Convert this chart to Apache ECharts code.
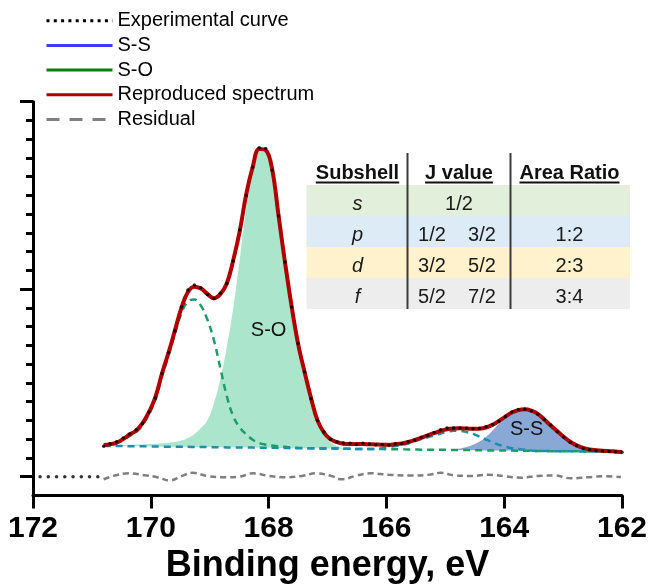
<!DOCTYPE html>
<html><head><meta charset="utf-8">
<script src="https://cdn.jsdelivr.net/npm/echarts@6/dist/echarts.min.js"></script>
<style>html,body{margin:0;padding:0;background:#fff}#chart{width:649px;height:584px}</style>
</head><body><div id="chart"></div>
<script>
// ---------- data ----------
const energy = [
170.80,170.69,170.58,170.47,170.36,170.25,170.14,170.03,169.92,169.81,
169.70,169.59,169.48,169.37,169.26,169.15,169.04,168.93,168.82,168.71,
168.60,168.49,168.38,168.27,168.16,168.05,167.94,167.83,167.72,167.61,
167.50,167.39,167.28,167.17,167.06,166.95,166.84,166.73,166.62,166.51,
166.40,166.29,166.18,166.07,165.96,165.85,165.74,165.63,165.52,165.41,
165.30,165.19,165.08,164.97,164.86,164.75,164.64,164.53,164.42,164.31,
164.20,164.09,163.98,163.87,163.76,163.65,163.54,163.43,163.32,163.21,
163.10,162.99,162.88,162.77,162.66,162.55,162.44,162.33,162.22,162.11,
162.00];
const background = [
1.64,1.64,1.63,1.63,1.62,1.62,1.62,1.61,1.61,1.60,
1.60,1.60,1.59,1.59,1.58,1.58,1.58,1.57,1.57,1.56,
1.56,1.56,1.55,1.55,1.54,1.54,1.54,1.53,1.53,1.52,
1.52,1.52,1.51,1.51,1.50,1.50,1.50,1.49,1.49,1.48,
1.48,1.48,1.47,1.47,1.46,1.46,1.46,1.45,1.45,1.44,
1.44,1.44,1.43,1.43,1.42,1.42,1.42,1.41,1.41,1.40,
1.40,1.40,1.39,1.39,1.38,1.38,1.38,1.37,1.37,1.36,
1.36,1.36,1.35,1.35,1.34,1.34,1.34,1.33,1.33,1.32,
1.32];
const reproduced = [
1.69,1.73,1.82,2.00,2.25,2.45,2.85,3.45,4.25,5.5,
6.6,7.8,9.0,9.85,10.13,10.03,9.75,9.52,9.74,10.3,
11.55,13.1,15.05,16.52,17.48,17.42,16.4,13.9,11.4,9.1,
7.1,5.6,4.2,3.0,2.35,2.0,1.84,1.76,1.74,1.74,
1.74,1.73,1.72,1.70,1.70,1.73,1.77,1.85,1.95,2.07,
2.2,2.32,2.44,2.53,2.57,2.58,2.57,2.55,2.56,2.62,
2.76,2.97,3.2,3.42,3.55,3.59,3.52,3.35,3.05,2.73,
2.43,2.13,1.86,1.67,1.53,1.45,1.41,1.38,1.36,1.34,
1.32];
const experimental = [
1.62,1.75,1.86,2.06,2.28,2.5,2.83,3.45,4.2,5.5,
6.62,7.78,9.05,9.95,10.22,10.08,9.72,9.5,9.78,10.3,
11.5,13.15,15.0,16.5,17.55,17.5,16.35,13.9,11.45,9.05,
7.1,5.6,4.15,3.0,2.4,2.0,1.86,1.8,1.78,1.72,
1.78,1.74,1.7,1.72,1.68,1.75,1.76,1.86,1.96,2.1,
2.2,2.35,2.5,2.6,2.6,2.6,2.58,2.56,2.58,2.66,
2.78,2.95,3.2,3.45,3.58,3.6,3.5,3.33,3.05,2.75,
2.4,2.1,1.84,1.65,1.5,1.44,1.4,1.37,1.35,1.33,
1.3];
const experimentalZeroX = [171.88,171.74,171.60,171.46,171.32,171.18,171.04,170.90];
const experimentalZeroY = [0,0,0,0,0,0,0,0];
// S-O main component (filled), incl. background, energy index 0..38
const soMainFrom = 0;
const soMain = [
1.66,1.67,1.68,1.69,1.70,1.71,1.72,1.74,1.76,1.78,
1.81,1.85,1.93,2.06,2.28,2.6,3.0,3.9,5.2,6.9,
9.0,11.6,14.3,16.3,17.35,17.35,16.3,13.85,11.35,9.05,
7.0,5.5,4.1,2.95,2.3,1.85,1.64,1.53,1.49];
// S-S main component (filled), incl. background, energy index 53..80
const ssMainFrom = 53;
const ssMain = [
1.43,1.44,1.5,1.58,1.7,1.88,2.12,2.45,2.82,3.15,
3.42,3.55,3.59,3.52,3.35,3.05,2.73,2.43,2.13,1.86,
1.67,1.53,1.45,1.40,1.37,1.35,1.33,1.32];
// second S-O component (green dashed)
const soSecond = [
1.66,1.70,1.78,1.94,2.17,2.37,2.75,3.33,4.12,5.35,
6.45,7.62,8.72,9.35,9.45,9.12,8.38,7.3,5.8,4.3,
3.22,2.62,2.26,1.97,1.8,1.71,1.66,1.62,1.59,1.56,
1.54,1.53,1.51,1.51,1.50,1.50,1.50,1.49,1.49,1.48,
1.48,1.48,1.47,1.47,1.46,1.46,1.46,1.45,1.45,1.44,
1.44,1.44,1.43,1.43,1.42,1.42,1.42,1.41,1.41,1.40,
1.40,1.40,1.39,1.39,1.38,1.38,1.38,1.37,1.37,1.36,
1.36,1.36,1.35,1.35,1.34,1.34,1.34,1.33,1.33,1.32,
1.32];
// second S-S component (teal dashed)
const ssSecond = [
1.64,1.64,1.63,1.63,1.62,1.62,1.62,1.61,1.61,1.60,
1.60,1.60,1.59,1.59,1.58,1.58,1.58,1.57,1.57,1.56,
1.56,1.56,1.55,1.55,1.54,1.54,1.54,1.53,1.53,1.52,
1.52,1.52,1.51,1.51,1.50,1.50,1.50,1.49,1.49,1.48,
1.48,1.48,1.47,1.52,1.58,1.63,1.68,1.77,1.88,2.0,
2.1,2.2,2.3,2.39,2.45,2.44,2.38,2.28,2.14,1.98,
1.83,1.70,1.60,1.52,1.47,1.43,1.40,1.37,1.37,1.36,
1.36,1.36,1.35,1.35,1.34,1.34,1.34,1.33,1.33,1.32,
1.32];
const residualX = [170.80,170.63,170.38,170.10,169.89,169.68,169.47,169.29,169.05,168.77,168.49,168.27,167.99,167.71,167.43,167.19,166.94,166.76,166.52,166.27,165.96,165.60,165.25,165.08,164.83,164.55,164.27,163.99,163.71,163.43,163.14,162.87,162.58,162.30,162.02];
const residualY = [-0.14,0.04,0.18,0.07,-0.03,-0.21,0.04,0.21,0.04,-0.03,0.0,0.18,0.04,-0.03,0.04,0.18,0.04,-0.14,0.04,0.18,0.1,0.06,0.11,0.21,0.06,0.04,0.1,0.02,-0.06,0.04,0.06,-0.09,-0.03,0.02,-0.02];
const xTicks = {min:162, max:172, step:2};
const peakLabels = [{name:'S-O', at:[168.0, 7.82]}, {name:'S-S', at:[163.62, 2.49]}];
const legendNames = ['Experimental curve','S-S','S-O','Reproduced spectrum','Residual'];
const tableHeaders = ['Subshell','J value','Area Ratio'];
const subshells = ['s','p','d','f'];
const jValues = [['1/2'],['1/2','3/2'],['3/2','5/2'],['5/2','7/2']];
const areaRatios = ['','1:2','2:3','3:4'];

// ---------- helpers ----------
const FONT = '"Liberation Sans", Arial, Helvetica, sans-serif';
const pairs = (xs, ys, from) => ys.map((v, i) => [xs[i + (from||0)], v]);
// stacked series: value first (dimension 0 is stacked), energy second
const stackRows = (vals, from, sub) => vals.map((v, i) => [+(v - (sub ? background[i + from] : 0)).toFixed(3), energy[i + from]]);

// ---------- table (graphic) ----------
const T = {x0:306.5, x1:630, headerY:173.5, underlineY:182.5, rowTop:185, rowH:31,
  colX:[357.5, 459, 569.5], jPairX:[432, 482], dividerX:[407.5, 510.5], dividerTop:153, textDy:3.5};
const rowColors = ['#e2efda','#ddebf7','#fff2cc','#ededed'];
const ctx = document.createElement('canvas').getContext('2d');
ctx.font = 'bold 20px "Liberation Sans", Arial';
const elements = [];
rowColors.forEach((c, i) => elements.push({type:'rect', z:1, shape:{x:T.x0, y:T.rowTop + i*T.rowH, width:T.x1 - T.x0, height:T.rowH}, style:{fill:c}}));
T.dividerX.forEach(dx => elements.push({type:'line', z:3, shape:{x1:dx, y1:T.dividerTop, x2:dx, y2:T.rowTop + 4*T.rowH}, style:{stroke:'#3a3a3a', lineWidth:2}}));
tableHeaders.forEach((h, i) => {
  const w = ctx.measureText(h).width;
  elements.push({type:'text', z:3, x:T.colX[i], y:T.headerY, style:{text:h, fontSize:20, fontWeight:'bold', fontFamily:FONT, fill:'#111', align:'center', verticalAlign:'middle'}});
  elements.push({type:'line', z:3, shape:{x1:T.colX[i]-w/2, y1:T.underlineY, x2:T.colX[i]+w/2, y2:T.underlineY}, style:{stroke:'#111', lineWidth:2}});
});
subshells.forEach((s, i) => {
  const cy = T.rowTop + i*T.rowH + T.rowH/2 + T.textDy;
  const txt = (t, x, italic) => ({type:'text', z:3, x:x, y:cy, style:{text:t, fontSize:20, fontStyle: italic ? 'italic' : 'normal', fontFamily:FONT, fill:'#1a1a1a', align:'center', verticalAlign:'middle'}});
  elements.push(txt(s, T.colX[0], true));
  if (jValues[i].length === 1) elements.push(txt(jValues[i][0], T.colX[1]));
  else jValues[i].forEach((j, k) => elements.push(txt(j, T.jPairX[k])));
  if (areaRatios[i]) elements.push(txt(areaRatios[i], T.colX[2]));
});

// ---------- chart ----------
const chart = echarts.init(document.getElementById('chart'), null, {renderer:'canvas'});
const hiddenX = gi => ({gridIndex:gi, type:'value', min:0, max:1, show:false});
const G = {left:33, right:27, top:101.7, outerBoundsMode:'none', containLabel:false};
const stackEnc = {x:1, y:0};
const option = {
  animation:false,
  backgroundColor:'#fff',
  textStyle:{fontFamily:FONT},
  grid:[
    Object.assign({bottom:88.6}, G),
    Object.assign({bottom:107.3}, G),
    Object.assign({bottom:78.6}, G)
  ],
  xAxis:[
    {gridIndex:0, type:'value', inverse:true, min:xTicks.min, max:xTicks.max, interval:xTicks.step,
     axisLine:{onZero:false, lineStyle:{color:'#000', width:3}},
     axisTick:{length:13, lineStyle:{color:'#000', width:3}},
     axisLabel:{fontSize:30, fontWeight:'bold', color:'#000', margin:18, fontFamily:FONT},
     splitLine:{show:false},
     name:'Binding energy, eV', nameLocation:'middle', nameGap:52,
     nameTextStyle:{fontSize:36, fontWeight:'bold', color:'#000', fontFamily:FONT}},
    hiddenX(1), hiddenX(2)
  ],
  yAxis:[
    {gridIndex:0, type:'value', min:-1, max:20, show:false},
    {gridIndex:1, type:'value', position:'left', min:0, max:20, interval:1,
     axisLine:{show:false, onZero:false}, axisTick:{show:true, length:7, lineStyle:{color:'#000', width:3}},
     axisLabel:{show:false}, splitLine:{show:false}},
    {gridIndex:1, type:'value', position:'left', min:0, max:20, interval:10,
     axisLine:{show:false, onZero:false}, axisTick:{show:true, length:13, lineStyle:{color:'#000', width:3}},
     axisLabel:{show:false}, splitLine:{show:false}},
    {gridIndex:2, type:'value', position:'left', min:-1.53, max:20,
     axisLine:{show:true, onZero:false, lineStyle:{color:'#000', width:3}}, axisTick:{show:false},
     axisLabel:{show:false}, splitLine:{show:false}}
  ],
  legend:{
    orient:'vertical', left:45, top:10.7, itemWidth:66, itemHeight:20, itemGap:4.7, padding:0,
    selectedMode:false, data:legendNames,
    lineStyle:{width:3}, itemStyle:{opacity:0},
    textStyle:{fontSize:20, color:'#000', fontFamily:FONT}
  },
  series:[
    {name:'soBase', type:'line', stack:'so', encode:stackEnc, data:stackRows(background.slice(soMainFrom, soMainFrom + soMain.length), soMainFrom, false), symbol:'none', silent:true, lineStyle:{opacity:0}, z:1},
    {name:'soFill', type:'line', stack:'so', encode:stackEnc, data:stackRows(soMain, soMainFrom, true), symbol:'none', smooth:0.4, silent:true, lineStyle:{width:0, opacity:0}, areaStyle:{color:'#abe5cc', opacity:1}, z:1},
    {name:'ssBase', type:'line', stack:'ss', encode:stackEnc, data:stackRows(background.slice(ssMainFrom, ssMainFrom + ssMain.length), ssMainFrom, false), symbol:'none', silent:true, lineStyle:{opacity:0}, z:1},
    {name:'ssFill', type:'line', stack:'ss', encode:stackEnc, data:stackRows(ssMain, ssMainFrom, true), symbol:'none', smooth:0.4, silent:true, lineStyle:{width:0, opacity:0}, areaStyle:{color:'#89a8d5', opacity:1}, z:1},
    {name:'soDash', type:'line', data:pairs(energy, soSecond), symbol:'none', smooth:0.4, lineStyle:{color:'#1f9c66', width:2.5, type:[7,5]}, z:2},
    {name:'ssDash', type:'line', data:pairs(energy, ssSecond), symbol:'none', smooth:0.4, lineStyle:{color:'#1b8fae', width:2.5, type:[7,5]}, z:2},
    {name:'fit', type:'line', data:pairs(energy, reproduced), symbol:'none', smooth:0.4, lineStyle:{color:'#b00000', width:4}, z:3,
     markPoint:{symbol:'circle', symbolSize:1, itemStyle:{color:'rgba(0,0,0,0)'},
       label:{show:true, position:'inside', color:'#111', fontSize:20, fontFamily:FONT, formatter:p => p.name},
       data:peakLabels.map(p => ({name:p.name, coord:p.at}))}},
    {name:'exp', type:'scatter', data:pairs(energy, experimental).concat(pairs(experimentalZeroX, experimentalZeroY)), symbol:'circle', symbolSize:3.5, itemStyle:{color:'#000'}, silent:true, z:5},
    {name:'resid', type:'line', data:pairs(residualX, residualY), symbol:'none', smooth:0.4, lineStyle:{color:'#7f7f7f', width:2.5, type:[6,4]}, z:3},
    // legend entries
    {name:'Experimental curve', type:'line', data:[], symbol:'none', showSymbol:false, itemStyle:{color:'#000'}, lineStyle:{color:'#000', width:3, type:[3,4.3]}},
    {name:'S-S', type:'line', data:[], symbol:'none', showSymbol:false, itemStyle:{color:'#3b3bff'}, lineStyle:{color:'#3b3bff', width:3}},
    {name:'S-O', type:'line', data:[], symbol:'none', showSymbol:false, itemStyle:{color:'#0b7f0b'}, lineStyle:{color:'#0b7f0b', width:3}},
    {name:'Reproduced spectrum', type:'line', data:[], symbol:'none', showSymbol:false, itemStyle:{color:'#b00000'}, lineStyle:{color:'#b00000', width:3}},
    {name:'Residual', type:'line', data:[], symbol:'none', showSymbol:false, itemStyle:{color:'#808080'}, lineStyle:{color:'#808080', width:3, type:[13,10]}}
  ],
  graphic:{elements:elements}
};
chart.setOption(option);
</script></body></html>
